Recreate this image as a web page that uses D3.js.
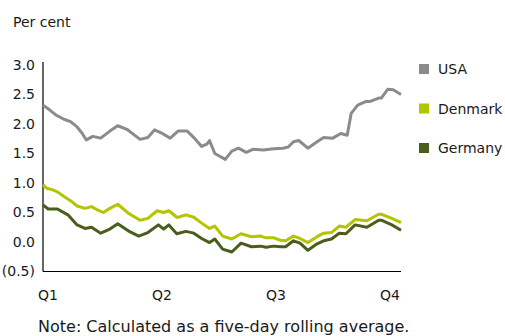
<!DOCTYPE html>
<html>
<head>
<meta charset="utf-8">
<script src="https://cdn.jsdelivr.net/npm/d3@7"></script>
<style>
  body { margin: 0; background: #fff; }
  svg { display: block; }
  text { font-family: "DejaVu Sans", Verdana, sans-serif; fill: #1a1a1a; }
</style>
</head>
<body>
<svg id="chart" width="505" height="336"></svg>
<script>
// Five-day rolling average, per cent; x = days since start of Q1
const usa = [
  [0, 2.32], [5, 2.24], [10, 2.15], [16, 2.08], [21, 2.04], [26, 1.95], [30, 1.84],
  [33, 1.73], [38, 1.79], [44, 1.76], [51, 1.88], [57, 1.97], [64, 1.91], [74, 1.74],
  [80, 1.77], [85, 1.90], [91, 1.84], [97, 1.76], [103, 1.88], [110, 1.88], [115, 1.77],
  [121, 1.62], [125, 1.66], [127, 1.72], [131, 1.50], [139, 1.40], [144, 1.54],
  [149, 1.59], [155, 1.52], [160, 1.57], [168, 1.56], [176, 1.58], [183, 1.59],
  [187, 1.61], [191, 1.70], [195, 1.72], [202, 1.59], [209, 1.70], [214, 1.77],
  [221, 1.76], [227, 1.84], [232, 1.81], [235, 2.18], [240, 2.32], [246, 2.38],
  [249, 2.38], [256, 2.44], [258, 2.44], [263, 2.59], [267, 2.58], [273, 2.50]
];
const denmark = [
  [0, 0.97], [3, 0.91], [8, 0.88], [11, 0.85], [16, 0.77], [21, 0.70], [26, 0.61],
  [32, 0.57], [37, 0.60], [41, 0.55], [46, 0.50], [51, 0.57], [57, 0.64], [65, 0.49],
  [74, 0.37], [80, 0.40], [87, 0.53], [92, 0.50], [96, 0.53], [102, 0.42], [103, 0.42],
  [109, 0.46], [115, 0.42], [121, 0.32], [127, 0.23], [131, 0.27], [137, 0.10],
  [144, 0.05], [151, 0.14], [159, 0.09], [166, 0.10], [170, 0.07], [176, 0.07],
  [181, 0.03], [185, 0.02], [191, 0.10], [196, 0.06], [202, -0.01], [209, 0.09],
  [214, 0.15], [220, 0.16], [226, 0.27], [231, 0.25], [238, 0.38], [247, 0.36],
  [256, 0.47], [258, 0.47], [266, 0.40], [273, 0.33]
];
const germany = [
  [0, 0.63], [4, 0.56], [11, 0.56], [19, 0.46], [26, 0.29], [32, 0.23], [37, 0.25],
  [44, 0.15], [51, 0.22], [57, 0.31], [65, 0.19], [73, 0.10], [80, 0.16], [88, 0.29],
  [92, 0.22], [96, 0.29], [102, 0.14], [109, 0.18], [115, 0.15], [121, 0.06],
  [127, -0.01], [131, 0.05], [137, -0.12], [144, -0.17], [151, -0.02], [159, -0.08],
  [166, -0.07], [170, -0.09], [176, -0.07], [181, -0.08], [185, -0.08], [191, 0.02],
  [196, -0.02], [202, -0.14], [209, -0.03], [214, 0.02], [220, 0.05], [226, 0.15],
  [231, 0.14], [238, 0.29], [247, 0.25], [256, 0.37], [258, 0.37], [266, 0.29],
  [273, 0.20]
];

const seriesNames = ["USA", "Denmark", "Germany"];
const seriesColors = ["#8b8b8b", "#b3c400", "#4b5d1c"];
const yTicks = [-0.5, 0, 0.5, 1, 1.5, 2, 2.5, 3];
const quarterLabels = ["Q1", "Q2", "Q3", "Q4"];

const svg = d3.select("#chart");
const plot = { left: 43, right: 401, top: 65, bottom: 271.5 };

const x = d3.scaleLinear().domain([0, 273]).range([plot.left, plot.right]);
const y = d3.scaleLinear().domain([-0.5, 3]).range([plot.bottom, plot.top]);
const q = d3.scalePoint().domain(quarterLabels).range([48, 390]);

// Unit label
svg.append("text").attr("x", 13).attr("y", 27)
  .attr("font-size", 14).text("Per cent");

// Y axis: vertical line plus formatted tick labels
const fmt = v => v < 0 ? "(" + d3.format(".1f")(-v) + ")" : d3.format(".1f")(v);
const yAxis = svg.append("g").attr("transform", `translate(${plot.left},0)`)
  .call(d3.axisLeft(y).tickValues(yTicks).tickFormat(fmt).tickSize(0).tickPadding(8));
yAxis.select(".domain").attr("stroke", "#000").attr("stroke-width", 1.2)
  .attr("d", `M0,${plot.top - 3}V${plot.bottom}`);
yAxis.selectAll("text").attr("font-size", 14).attr("fill", "#1a1a1a")
  .attr("font-family", "DejaVu Sans, Verdana, sans-serif");

// X axis baseline and quarter labels
svg.append("line")
  .attr("x1", plot.left).attr("x2", plot.right)
  .attr("y1", plot.bottom).attr("y2", plot.bottom)
  .attr("stroke", "#000").attr("stroke-width", 1.2);
svg.append("g").selectAll("text").data(quarterLabels).join("text")
  .attr("x", d => q(d)).attr("y", 300)
  .attr("text-anchor", "middle").attr("font-size", 14)
  .text(d => d);

// Series lines
const line = d3.line().x(d => x(d[0])).y(d => y(d[1])).curve(d3.curveLinear);
[usa, denmark, germany].forEach((data, i) => {
  svg.append("path").datum(data)
    .attr("fill", "none")
    .attr("stroke", seriesColors[i])
    .attr("stroke-width", 3)
    .attr("stroke-linejoin", "round")
    .attr("d", line);
});

// Legend
const legend = svg.append("g").selectAll("g").data(seriesNames).join("g")
  .attr("transform", (d, i) => `translate(419,${64 + i * 39.5})`);
legend.append("rect").attr("width", 10).attr("height", 10)
  .attr("fill", (d, i) => seriesColors[i]);
legend.append("text").attr("x", 19).attr("y", 10)
  .attr("font-size", 14).text(d => d);

// Footnote
svg.append("text").attr("x", 38).attr("y", 332)
  .attr("font-size", 16).text("Note: Calculated as a five-day rolling average.");
</script>
</body>
</html>
